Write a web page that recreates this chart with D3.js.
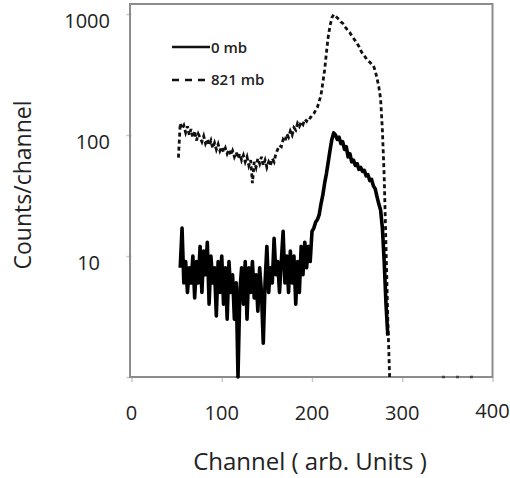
<!DOCTYPE html>
<html>
<head>
<meta charset="utf-8">
<script src="https://cdn.jsdelivr.net/npm/d3@7"></script>
<style>
  body { margin: 0; background: #fff; }
  text { font-family: "Open Sans", sans-serif; fill: #222; }
</style>
</head>
<body>
<div id="chart"></div>
<script>
// channel spectra (step of 2 channels)
let ch0mb = d3.range(54, 286, 2);
let counts0mb = [
    8, 17, 6, 9, 5, 8, 6, 10, 4.5, 9, 6, 12, 5, 11, 7, 13, 4, 10, 6, 8,
    3.2, 9, 5, 10, 4, 8, 3, 9, 5, 7, 3, 6, 1, 5, 8, 4, 9, 3, 8, 5,
    9, 4.5, 7, 3.5, 8, 5, 1.9, 6, 12, 5, 8, 6, 14, 7, 9, 5, 9, 16, 6, 10,
    5, 11, 6, 10, 4, 9, 5, 12, 7, 13, 8, 12, 9, 16, 17, 19, 20, 22, 27, 32,
    40, 48, 60, 75, 92, 104, 100, 92, 96, 85, 88, 76, 80, 66, 70, 60, 62, 56, 58, 52,
    54, 50, 51, 46, 47, 42, 43, 38, 36, 31, 27, 24, 17, 9, 4, 2.2
];
let ch821mb = d3.range(52, 288, 2);
let counts821mb = [
    65, 125, 112, 120, 105, 118, 100, 112, 95, 108, 90, 102, 95, 88, 98, 85, 92, 82, 90, 78,
    86, 76, 84, 74, 80, 72, 78, 70, 76, 68, 74, 66, 72, 64, 70, 62, 68, 60, 66, 56,
    62, 40, 60, 54, 64, 58, 66, 56, 62, 54, 60, 56, 64, 60, 70, 76, 82, 80, 92, 88,
    102, 96, 108, 100, 115, 110, 125, 118, 128, 122, 135, 130, 140, 138, 145, 150, 160, 170, 190, 215,
    270, 345, 480, 650, 800, 930, 990, 960, 930, 900, 860, 840, 790, 760, 720, 700, 660, 630, 600, 570,
    540, 500, 470, 450, 430, 410, 400, 385, 375, 340, 295, 250, 200, 110, 45, 12, 3, 1
];
// few scattered points sitting on the floor beyond the edge
let chTail = [344, 358, 372, 382];
let countsTail = [1, 1, 1, 1];

let xTicks = [0, 100, 200, 300, 400];
let yTicks = [10, 100, 1000];
let legendLabels = ["0 mb", "821 mb"];

let width = 510, height = 478;

let xScale = d3.scaleLinear().domain([0, 400]).range([131.5, 492.5]);
let yScale = d3.scaleLog().domain([1, 1210]).range([377, 4]);

let svg = d3.select("#chart").append("svg")
    .attr("width", width)
    .attr("height", height);

// ticks
let xAxis = d3.axisBottom(xScale).tickValues(xTicks).tickSize(5).tickFormat("");
let yAxis = d3.axisLeft(yScale).tickValues(yTicks.concat([1])).tickSize(5).tickFormat("");

svg.append("g").attr("transform", `translate(0, ${yScale(1)})`).call(xAxis)
    .call(g => g.select(".domain").remove())
    .selectAll("line").attr("stroke", "#c8c8c8").attr("stroke-width", 1.5);
svg.append("g").attr("transform", `translate(${xScale(0)}, 0)`).call(yAxis)
    .call(g => g.select(".domain").remove())
    .selectAll("line").attr("stroke", "#c8c8c8").attr("stroke-width", 1.5);

// tick labels
svg.selectAll(".xlab").data(xTicks).enter().append("text")
    .attr("x", d => xScale(d))
    .attr("y", d => d === 400 ? 418 : 420)
    .attr("text-anchor", "middle")
    .style("font-size", "20px")
    .text(d => d);

svg.selectAll(".ylab").data(yTicks).enter().append("text")
    .attr("x", d => d === 10 ? 100 : 110)
    .attr("y", d => yScale(d) + 14)
    .attr("text-anchor", "end")
    .style("font-size", "20px")
    .text(d => d);

// plot frame
svg.append("rect")
    .attr("x", xScale(0) - 1.5)
    .attr("y", yScale(1210))
    .attr("width", xScale(400) - xScale(0) + 1.5)
    .attr("height", yScale(1) - yScale(1210))
    .attr("fill", "none")
    .attr("stroke", "#8c8c8c")
    .attr("stroke-width", 2);

let line = d3.line()
    .x(d => xScale(d[0]))
    .y(d => yScale(d[1]));

svg.append("path")
    .datum(d3.zip(ch821mb, counts821mb))
    .attr("d", line)
    .attr("fill", "none")
    .attr("stroke", "#111")
    .attr("stroke-width", 2.8)
    .attr("stroke-dasharray", "4,3");

svg.append("path")
    .datum(d3.zip(chTail, countsTail))
    .attr("d", line)
    .attr("fill", "none")
    .attr("stroke", "#444")
    .attr("stroke-width", 2.5)
    .attr("stroke-dasharray", "3,11");

svg.append("path")
    .datum(d3.zip(ch0mb, counts0mb))
    .attr("d", line)
    .attr("fill", "none")
    .attr("stroke", "#000")
    .attr("stroke-width", 3.6)
    .attr("stroke-linejoin", "round");

// legend
let legend = svg.append("g");
legend.selectAll("line").data(legendLabels).enter().append("line")
    .attr("x1", 172).attr("x2", 210)
    .attr("y1", (d, i) => 47 + i * 33)
    .attr("y2", (d, i) => 47 + i * 33)
    .attr("stroke", "#111")
    .attr("stroke-width", 2.5)
    .attr("stroke-dasharray", (d, i) => i ? "7,6" : null);
legend.selectAll("text").data(legendLabels).enter().append("text")
    .attr("x", 211)
    .attr("y", (d, i) => 53 + i * 32)
    .style("font-size", "15px")
    .style("font-weight", 600)
    .text(d => d);

// axis titles
svg.append("text")
    .attr("x", 310)
    .attr("y", 470)
    .attr("text-anchor", "middle")
    .style("font-size", "24px")
    .text("Channel ( arb. Units )");

svg.append("text")
    .attr("transform", "translate(31, 185) rotate(-90)")
    .attr("text-anchor", "middle")
    .style("font-size", "23px")
    .text("Counts/channel");
</script>
</body>
</html>
